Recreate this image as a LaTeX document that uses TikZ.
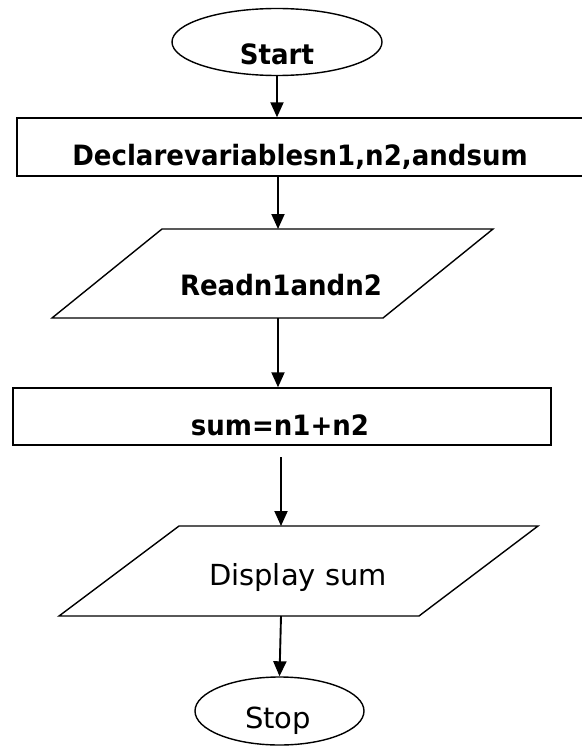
\documentclass[tikz,border=0pt]{standalone}
\usepackage{fontspec}
\setmainfont{DejaVu Sans}
\newfontfamily\condfont{DejaVu Sans}[FakeStretch=0.93]
\usetikzlibrary{arrows.meta,shapes.geometric}
\begin{document}
\begin{tikzpicture}[x=1pt,y=-1pt,
  outline/.style={draw=black,line width=1.4pt,fill=white},
  arr/.style={line width=1.9pt,-{Triangle[length=15pt,width=13pt]}},
  lblb/.style={font=\condfont\fontsize{28}{32}\selectfont\bfseries,inner sep=0pt,anchor=base},
  lblr/.style={font=\fontsize{29}{32}\selectfont,inner sep=0pt,anchor=base}]
\useasboundingbox (0,0) rectangle (581,746);
% shapes
\node[outline,ellipse,minimum width=210pt,minimum height=67pt,inner sep=0pt] (start) at (277,42) {};
\node[outline,rectangle,minimum width=566pt,minimum height=58pt,inner sep=0pt] (decl) at (300,147) {};
\draw[outline] (52,318) -- (162,229) -- (493,229) -- (383,318) -- cycle;
\coordinate (readtop) at (278,229);
\coordinate (readbot) at (278,318);
\node[outline,rectangle,minimum width=538pt,minimum height=57pt,inner sep=0pt] (sum) at (282,416.5) {};
\draw[outline] (59,616) -- (179,526) -- (538,526) -- (419,616) -- cycle;
\coordinate (disptop) at (281,526);
\coordinate (dispbot) at (281,616);
\coordinate (sumgap) at (281,457);
\node[outline,ellipse,minimum width=169pt,minimum height=68pt,inner sep=0pt] (stop) at (279.5,711) {};
% texts
\node[lblb] (tstart) at (277,65) {Start};
\node[lblb] (tdecl) at (300,165) {Declarevariablesn1,n2,andsum};
\node[lblb] (tread) at (281,295) {Readn1andn2};
\node[lblb] (tsum) at (280,435) {sum=n1+n2};
\node[lblr] (tdisp) at (298,585) {Display sum};
\node[lblr] (tstop) at (278,728) {Stop};
% connectors
\draw[arr] (start.south) -- (start.south |- decl.north);
\draw[arr] (readtop |- decl.south) -- (readtop);
\draw[arr] (readbot) -- (readbot |- sum.north);
\draw[arr] (sumgap) -- (disptop);
\draw[arr] (dispbot) -- (stop.north);
\end{tikzpicture}
\end{document}
